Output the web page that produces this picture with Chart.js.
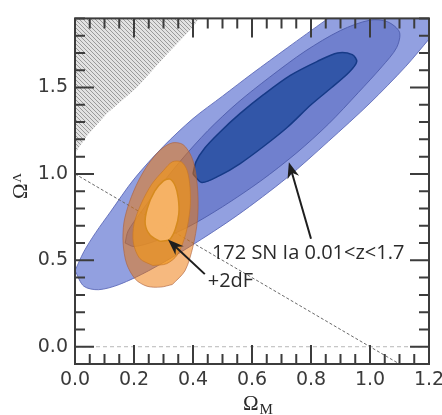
<!DOCTYPE html>
<html>
<head>
<meta charset="utf-8">
<script src="https://cdn.jsdelivr.net/npm/chart.js@4.4.1/dist/chart.umd.min.js"></script>
<style>
  html, body { margin: 0; padding: 0; background: #fff; }
</style>
</head>
<body>
<canvas id="chart" width="442" height="415"></canvas>
<script>
// contour outlines, [Omega_M, Omega_Lambda]
const blueOuter = [[0.00,0.44],[0.03,0.55],[0.07,0.66],[0.12,0.78],[0.20,0.97],[0.30,1.16],[0.40,1.32],[0.50,1.45],[0.60,1.58],[0.72,1.73],[0.85,1.89],[1.00,2.07],[1.20,2.28],[1.40,2.42],[1.45,2.33],[1.38,2.15],[1.30,1.98],[1.20,1.78],[1.12,1.62],[1.00,1.41],[0.86,1.19],[0.72,0.98],[0.55,0.76],[0.39,0.58],[0.25,0.44],[0.15,0.36],[0.08,0.33],[0.03,0.35],[0.00,0.44]];
const blueMid = [[0.17,0.60],[0.18,0.67],[0.22,0.77],[0.28,0.91],[0.36,1.08],[0.45,1.25],[0.55,1.41],[0.66,1.56],[0.78,1.71],[0.90,1.83],[1.00,1.89],[1.06,1.88],[1.10,1.82],[1.09,1.73],[1.04,1.62],[0.96,1.47],[0.86,1.29],[0.75,1.12],[0.63,0.96],[0.50,0.81],[0.38,0.69],[0.27,0.61],[0.20,0.58],[0.17,0.60]];
const blueInner = [[0.40,1.00],[0.41,1.07],[0.44,1.15],[0.49,1.24],[0.56,1.35],[0.64,1.46],[0.73,1.57],[0.82,1.65],[0.89,1.70],[0.94,1.69],[0.955,1.65],[0.93,1.59],[0.87,1.50],[0.80,1.40],[0.72,1.27],[0.64,1.16],[0.56,1.06],[0.49,0.99],[0.43,0.95],[0.40,1.00]];
const orangeOuter = [[0.33,0.36],[0.373,0.44],[0.40,0.58],[0.415,0.73],[0.417,0.87],[0.41,1.00],[0.395,1.10],[0.366,1.17],[0.33,1.18],[0.29,1.14],[0.25,1.06],[0.215,0.96],[0.185,0.84],[0.166,0.72],[0.163,0.60],[0.175,0.48],[0.205,0.39],[0.244,0.35],[0.29,0.345],[0.33,0.36]];
const orangeMid = [[0.264,0.47],[0.31,0.48],[0.346,0.53],[0.375,0.65],[0.39,0.80],[0.39,0.92],[0.38,1.02],[0.36,1.07],[0.33,1.07],[0.30,1.02],[0.26,0.94],[0.225,0.83],[0.20,0.71],[0.198,0.60],[0.22,0.51],[0.264,0.47]];
const orangeInner = [[0.288,0.61],[0.32,0.62],[0.34,0.68],[0.352,0.77],[0.35,0.86],[0.34,0.93],[0.322,0.97],[0.30,0.96],[0.27,0.90],[0.245,0.80],[0.238,0.71],[0.255,0.645],[0.288,0.61]];
const noBigBang = [[0.00,1.12],[0.04,1.22],[0.108,1.35],[0.21,1.50],[0.31,1.69],[0.40,1.85],[0.42,1.90]];
const flatLine = [[0.0,1.0],[1.1,-0.1]];
const zeroLine = [[0.0,0.0],[1.2,0.0]];

const xTickLabels = ['0.0','0.2','0.4','0.6','0.8','1.0','1.2'];
const yTickLabels = ['0.0','0.5','1.0','1.5'];

const toXY = arr => arr.map(p => ({x: p[0], y: p[1]}));

// hatch pattern for the excluded corner
function hatch() {
  const s = 4;
  const c = document.createElement('canvas');
  c.width = s; c.height = s;
  const g = c.getContext('2d');
  g.fillStyle = '#e2e2e2';
  g.fillRect(0, 0, s, s);
  g.strokeStyle = '#9a9a9a';
  g.lineWidth = 1;
  for (let k = -1; k <= 1; k++) {
    g.beginPath();
    g.moveTo(k * s, 0);
    g.lineTo(k * s + s, s);
    g.stroke();
  }
  return g.createPattern(c, 'repeat');
}

function contour(data, fillColor, lineColor, width, order) {
  return {
    data: toXY(data),
    backgroundColor: fillColor,
    borderColor: lineColor,
    borderWidth: width,
    fill: 'shape',
    tension: 0.3,
    pointRadius: 0,
    order: order
  };
}

// ticks pointing inward on all four sides, plus frame
const frameTicks = {
  id: 'frameTicks',
  afterDatasetsDraw(chart) {
    const {ctx, chartArea: a, scales: {x, y}} = chart;
    ctx.save();
    ctx.strokeStyle = '#3c3c3c';
    ctx.lineWidth = 2;
    x.ticks.forEach(t => {
      const px = x.getPixelForValue(t.value);
      const len = Math.round(t.value * 20) % 4 === 0 ? 19 : 10;
      ctx.beginPath();
      ctx.moveTo(px, a.bottom); ctx.lineTo(px, a.bottom - len);
      ctx.moveTo(px, a.top); ctx.lineTo(px, a.top + len);
      ctx.stroke();
    });
    y.ticks.forEach(t => {
      const py = y.getPixelForValue(t.value);
      const len = Math.round(t.value * 10) % 5 === 0 ? 19 : 10;
      ctx.beginPath();
      ctx.moveTo(a.left, py); ctx.lineTo(a.left + len, py);
      ctx.moveTo(a.right, py); ctx.lineTo(a.right - len, py);
      ctx.stroke();
    });
    ctx.strokeRect(a.left, a.top, a.right - a.left, a.bottom - a.top);
    ctx.restore();
  }
};

// arrows and labels, placed in data coordinates
const notes = [
  {text: '172 SN Ia 0.01<z<1.7', at: [0.464, 0.506], tail: [0.80, 0.625], tip: [0.725, 1.068]},
  {text: '+2dF', at: [0.45, 0.347], tail: [0.44, 0.42], tip: [0.315, 0.62]}
];

const annotations = {
  id: 'annotations',
  afterDraw(chart) {
    const {ctx, scales: {x, y}} = chart;
    ctx.save();
    notes.forEach(n => {
      const x0 = x.getPixelForValue(n.tail[0]), y0 = y.getPixelForValue(n.tail[1]);
      const x1 = x.getPixelForValue(n.tip[0]), y1 = y.getPixelForValue(n.tip[1]);
      const ang = Math.atan2(y1 - y0, x1 - x0);
      const c = Math.cos(ang), s = Math.sin(ang);
      ctx.strokeStyle = '#1e1e1e';
      ctx.fillStyle = '#1e1e1e';
      ctx.lineWidth = 2;
      ctx.beginPath();
      ctx.moveTo(x0, y0);
      ctx.lineTo(x1 - 10 * c, y1 - 10 * s);
      ctx.stroke();
      ctx.beginPath();
      ctx.moveTo(x1, y1);
      ctx.lineTo(x1 - 16 * c + 6 * s, y1 - 16 * s - 6 * c);
      ctx.lineTo(x1 - 11 * c, y1 - 11 * s);
      ctx.lineTo(x1 - 16 * c - 6 * s, y1 - 16 * s + 6 * c);
      ctx.closePath();
      ctx.fill();
      ctx.font = '20px "Open Sans"';
      ctx.fillStyle = '#2a2a2a';
      ctx.textAlign = 'left';
      ctx.textBaseline = 'alphabetic';
      ctx.fillText(n.text, x.getPixelForValue(n.at[0]), y.getPixelForValue(n.at[1]));
    });

    // axis titles with subscripts
    ctx.fillStyle = '#2a2a2a';
    ctx.textBaseline = 'alphabetic';
    ctx.textAlign = 'left';
    ctx.font = '21px "Liberation Serif"';
    const wO = ctx.measureText('\u03A9').width;
    ctx.fillText('\u03A9', 243, 410);
    ctx.font = '15px "Liberation Serif"';
    ctx.fillText('M', 243 + wO + 1, 414);

    ctx.translate(27, 199);
    ctx.rotate(-Math.PI / 2);
    ctx.font = '21px "Liberation Serif"';
    ctx.fillText('\u03A9', 0, 0);
    ctx.font = '13px "Liberation Serif"';
    ctx.fillText('\u039B', wO + 1, -6);
    ctx.restore();
  }
};

const ctx = document.getElementById('chart').getContext('2d');
new Chart(ctx, {
  type: 'line',
  data: {
    datasets: [
      {data: toXY(noBigBang), backgroundColor: hatch(), borderWidth: 0, fill: 'end', pointRadius: 0, order: 10},
      contour(blueOuter, 'rgb(146,160,224)', 'rgba(95,108,185,0.9)', 1, 9),
      contour(blueMid, 'rgb(112,128,206)', 'rgba(78,92,172,0.9)', 1, 8),
      contour(blueInner, 'rgb(50,86,168)', 'rgb(22,58,135)', 1.5, 7),
      {data: toXY(zeroLine), borderColor: '#b8b8b8', borderWidth: 1, borderDash: [4, 3], fill: false, pointRadius: 0, order: 6},
      {data: toXY(flatLine), borderColor: '#6a6a6a', borderWidth: 1, borderDash: [3, 2], fill: false, pointRadius: 0, order: 5},
      contour(orangeOuter, 'rgba(237,115,0,0.5)', 'rgba(170,95,60,0.6)', 1, 4),
      contour(orangeMid, 'rgba(240,150,30,0.7)', 'rgba(200,120,40,0.7)', 1, 3),
      contour(orangeInner, 'rgba(250,185,110,0.85)', 'rgb(214,138,30)', 1.5, 2)
    ]
  },
  options: {
    responsive: false,
    animation: false,
    layout: { padding: { top: 12, right: 13, left: 0, bottom: 0 } },
    elements: { line: { capBezierPoints: false } },
    plugins: { legend: { display: false }, tooltip: { enabled: false } },
    scales: {
      x: {
        type: 'linear',
        min: 0, max: 1.2,
        afterFit(s) { s.height = 51; s.paddingLeft = 0; s.paddingRight = 0; },
        grid: { display: false, drawTicks: false },
        border: { display: false },
        ticks: {
          stepSize: 0.05, autoSkip: false, maxRotation: 0, padding: 5,
          color: '#3a3a3a', font: { family: 'DejaVu Sans', size: 19 },
          callback: v => {
            const k = Math.round(v * 20);
            return k % 4 === 0 ? xTickLabels[k / 4] : '';
          }
        }
      },
      y: {
        min: -0.1, max: 1.9,
        afterFit(s) { s.width = 75; },
        grid: { display: false, drawTicks: false },
        border: { display: false },
        ticks: {
          stepSize: 0.1, autoSkip: false, padding: 7,
          color: '#3a3a3a', font: { family: 'DejaVu Sans', size: 19 },
          callback: v => {
            const k = Math.round(v * 10);
            return k >= 0 && k % 5 === 0 ? yTickLabels[k / 5] : '';
          }
        }
      }
    }
  },
  plugins: [frameTicks, annotations]
});
</script>
</body>
</html>
